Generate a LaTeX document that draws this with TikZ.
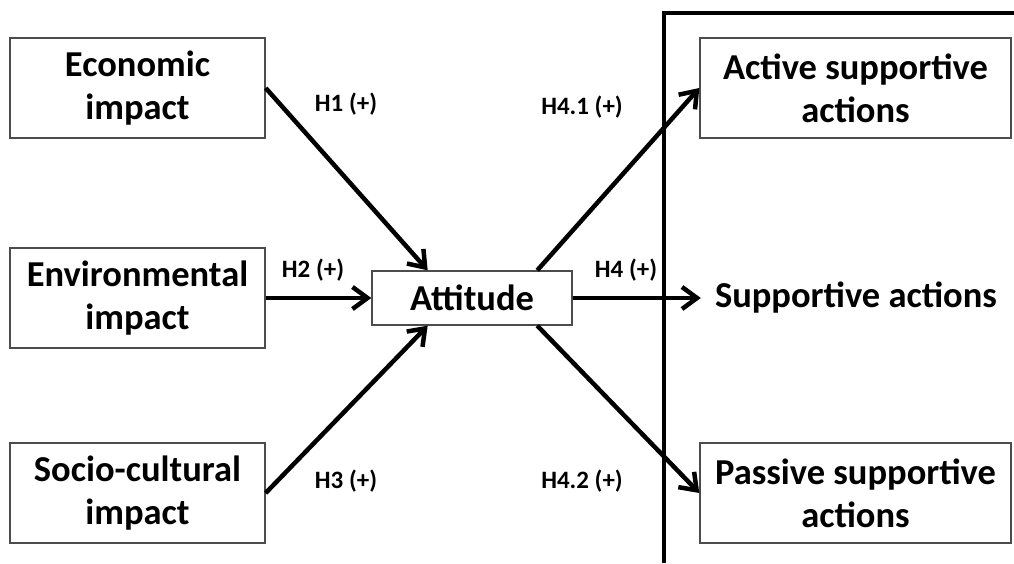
\documentclass[tikz,border=0pt]{standalone}
\usepackage{fontspec}
\setmainfont{Carlito}
\usetikzlibrary{arrows.meta, positioning}

\begin{document}
\begin{tikzpicture}[
    x=1pt, y=1pt,
    >={Straight Barb[length=15pt, width=22pt, line width=4.5pt]},
    % Estilos de las cajas y las etiquetas
    factor box/.style={draw=black!70, line width=1.4pt, minimum width=255pt, minimum height=100pt,
        align=center, font=\fontsize{36.5}{43}\selectfont\bfseries},
    action box/.style={factor box, minimum width=311pt},
    hyp label/.style={font=\fontsize{25}{30}\selectfont\bfseries},
    link/.style={->, line width=4.5pt}
]
    \useasboundingbox (0,0) rectangle (1014,563);

    % --- 1. MARCO DE LAS ACCIONES ---
    \draw[line width=4.5pt] (664,0) -- (664,550) -- (1014,550);

    % --- 2. FACTORES DE IMPACTO ---
    \node[factor box] (eco) at (137.5,475) {Economic\\impact};
    \node[factor box] (env) at (137.5,265) {Environmental\\impact};
    \node[factor box] (soc) at (137.5,70) {Socio-cultural\\impact};

    % --- 3. ACTITUD ---
    \node[factor box, minimum width=200pt, minimum height=54pt] (att) at (472,265) {Attitude};

    % --- 4. ACCIONES DE APOYO ---
    \node[font=\fontsize{36.5}{43}\selectfont\bfseries, inner sep=0pt] (sup) at (856,265) {Supportive actions};
    \node[action box] (act) at (855.5,475) {Active supportive\\actions};
    \node[action box] (pas) at (855.5,70) {Passive supportive\\actions};

    % --- 5. HIPÓTESIS ---
    \draw[link] (eco.east) -- (att.148);
    \draw[link] (env.east) -- (att.west);
    \draw[link] (soc.east) -- (att.212);
    \draw[link] (att.23) -- (act.west);
    \draw[link] (att.east) -- ([xshift=-14pt]sup.west);
    \draw[link] (att.-23) -- (pas.west);

    % --- 6. ETIQUETAS ---
    \node[hyp label] (h1) at (346,459) {H1 (+)};
    \node[hyp label] (h2) at (313,293) {H2 (+)};
    \node[hyp label] (h3) at (346,82) {H3 (+)};
    \node[hyp label] (h41) at (582,456) {H4.1 (+)};
    \node[hyp label] (h4) at (626,293) {H4 (+)};
    \node[hyp label] (h42) at (582,82) {H4.2 (+)};
\end{tikzpicture}
\end{document}
